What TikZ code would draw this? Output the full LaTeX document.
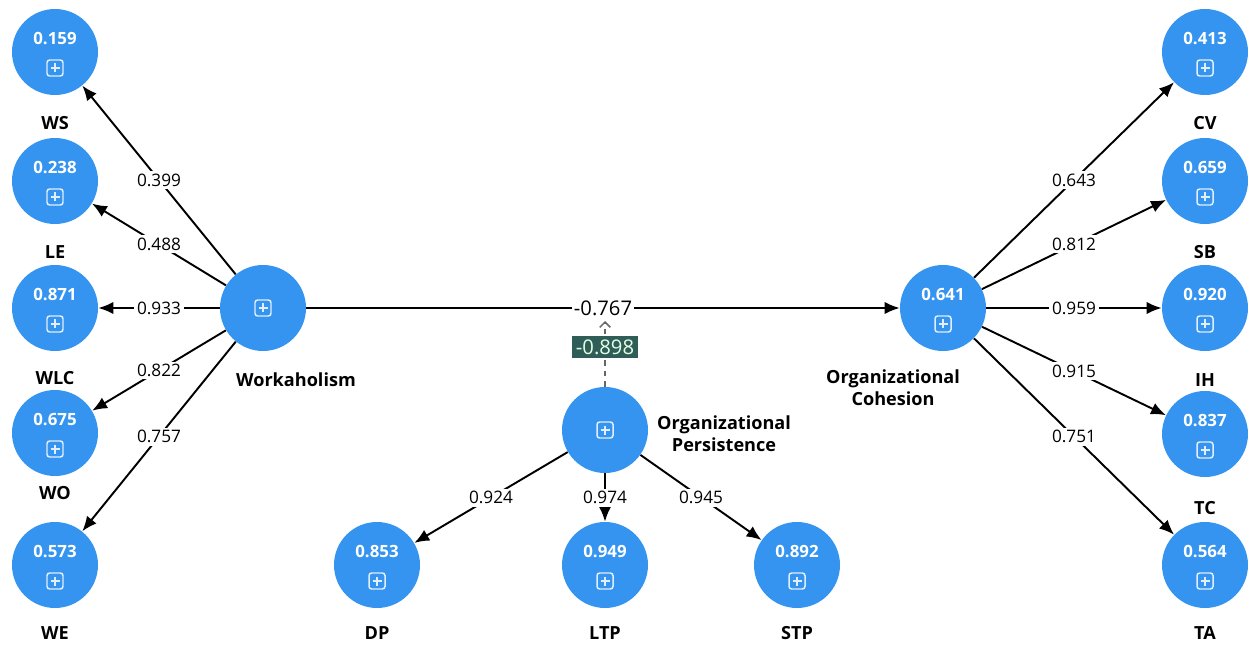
\documentclass[tikz,border=0pt]{standalone}
\usepackage{fontspec}
\setmainfont{Open Sans}
\usetikzlibrary{arrows.meta,calc}
\definecolor{nodeblue}{RGB}{52,148,240}
\definecolor{modbox}{RGB}{47,94,88}
\definecolor{iconcol}{RGB}{225,238,255}
\begin{document}
\begin{tikzpicture}[x=0.02cm,y=-0.02cm,
  lv/.style={circle, fill=nodeblue, minimum size=1.72cm, inner sep=0pt},
  val/.style={text=white, font=\bfseries\fontsize{9.6}{11}\selectfont},
  nm/.style={font=\bfseries\fontsize{10.3}{12.5}\selectfont, align=center},
  arr/.style={-{Latex[length=8.5pt,width=7pt]}, line width=1.1pt, black},
  coef/.style={fill=white, inner sep=1.5pt, font=\fontsize{9.8}{11}\selectfont},
  iconline/.style={draw=iconcol, line width=0.85pt},
  plusbox/.pic={\draw[iconline, rounded corners=1.5pt] (-8,-8) rectangle (8,8);
                \draw[iconline] (-4.5,0)--(4.5,0) (0,-4.5)--(0,4.5);}
]
\useasboundingbox (0,0) rectangle (1248,645);

% latent variables
\node[lv] (W)  at (263,308) {};
\node[lv] (OC) at (943,308) {};
\node[lv] (OP) at (605,430) {};
\pic at (W) {plusbox};
\pic at (OP) {plusbox};
\node[val] at ($(OC)+(0,-14)$) {0.641};
\pic at ($(OC)+(0,16)$) {plusbox};

% indicator-like circles with values
\foreach \n/\x/\y/\v in {WS/55/52/0.159, LE/55/181/0.238, WLC/55/308/0.871, WO/55/433/0.675, WE/55/565/0.573,
  CV/1205/52/0.413, SB/1205/181/0.659, IH/1205/308/0.920, TC/1205/434/0.837, TA/1205/565/0.564,
  DP/377/565/0.853, LTP/605/565/0.949, STP/797/565/0.892}{
  \node[lv] (\n) at (\x,\y) {};
  \node[val] at ($(\n)+(0,-14)$) {\v};
  \pic at ($(\n)+(0,16)$) {plusbox};
}

% names
\node[nm] at (55,123) {WS};
\node[nm] at (55,252) {LE};
\node[nm] at (55,378) {WLC};
\node[nm] at (55,493) {WO};
\node[nm] at (55,633) {WE};
\node[nm] at (1205,123) {CV};
\node[nm] at (1205,252) {SB};
\node[nm] at (1205,380) {IH};
\node[nm] at (1205,508) {TC};
\node[nm] at (1205,633) {TA};
\node[nm] at (377,633) {DP};
\node[nm] at (605,633) {LTP};
\node[nm] at (797,633) {STP};
\node[nm] at (296,380) {Workaholism};
\node[nm] at (893,388) {Organizational\\Cohesion};
\node[nm] at (724,434) {Organizational\\Persistence};

% paths
\draw[arr] (W) -- node[coef]{0.399} (WS);
\draw[arr] (W) -- node[coef]{0.488} (LE);
\draw[arr] (W) -- node[coef]{0.933} (WLC);
\draw[arr] (W) -- node[coef]{0.822} (WO);
\draw[arr] (W) -- node[coef]{0.757} (WE);
\draw[arr] (OC) -- node[coef]{0.643} (CV);
\draw[arr] (OC) -- node[coef]{0.812} (SB);
\draw[arr] (OC) -- node[coef]{0.959} (IH);
\draw[arr] (OC) -- node[coef]{0.915} (TC);
\draw[arr] (OC) -- node[coef]{0.751} (TA);
\draw[arr] (OP) -- node[coef]{0.924} (DP);
\draw[arr] (OP) -- node[coef]{0.974} (LTP);
\draw[arr] (OP) -- node[coef]{0.945} (STP);
\draw[arr] (W) -- node[coef, font=\fontsize{11.5}{13}\selectfont, inner sep=1pt]{-0.767} (OC);

% moderation
\coordinate (modend) at (605,321);
\draw[dashed, draw=black!60, line width=0.9pt, -{Straight Barb[length=3pt,width=6pt]}] (OP) -- (modend)
  node[pos=0.6, fill=modbox, text=white!90!green, inner sep=2pt, font=\fontsize{11.5}{13}\selectfont]{-0.898};
\end{tikzpicture}
\end{document}
